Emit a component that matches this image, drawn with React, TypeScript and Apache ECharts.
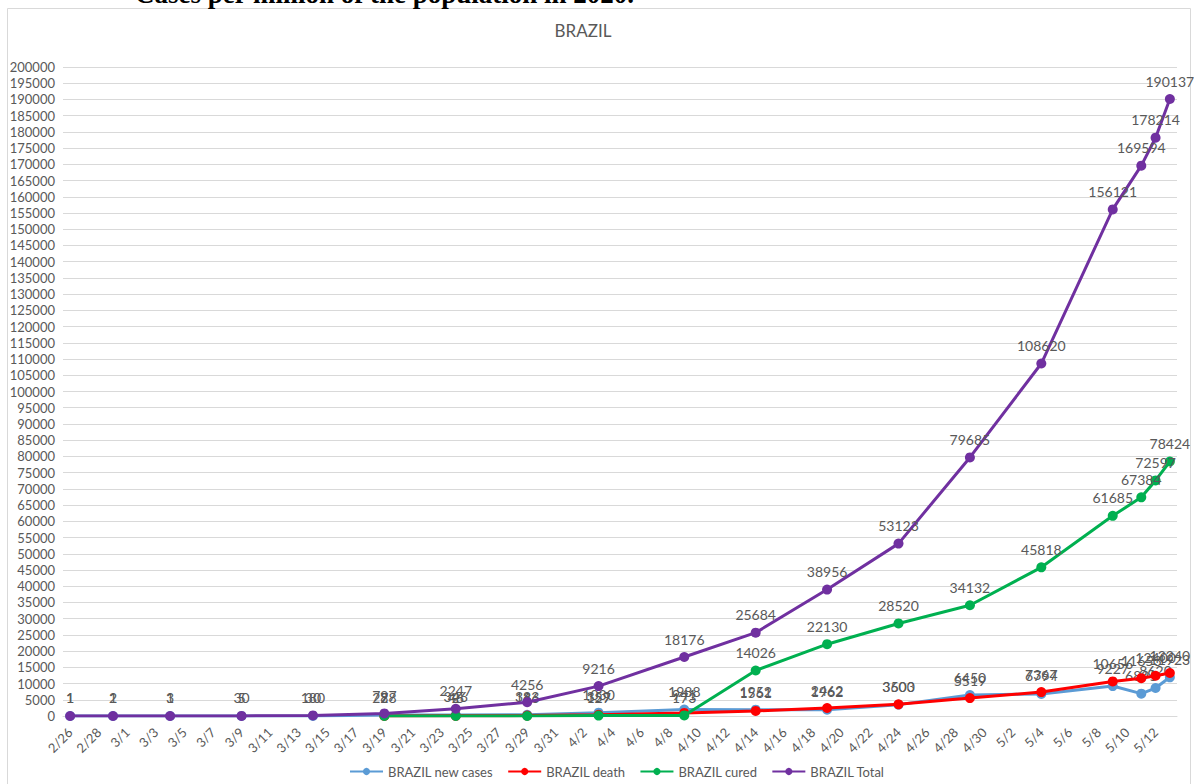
import React, { useEffect, useRef } from "react";
import * as echarts from "echarts";

// Observation dates (2020)
const obsDates = ["2/26", "2/29", "3/4", "3/9", "3/14", "3/19", "3/24", "3/29", "4/3", "4/9", "4/14", "4/19", "4/24", "4/29", "5/4", "5/9", "5/11", "5/12", "5/13"];

const newCases = [1, 1, 1, 5, 30, 288, 346, 383, 1030, 1988, 1952, 1962, 3503, 6450, 6794, 9227, 6895, 8620, 11923];
const deaths = [null, null, null, null, null, 7, 46, 136, 359, 941, 1561, 2462, 3600, 5519, 7367, 10656, 11653, 12400, 13240];
const cured = [null, null, null, null, null, 2, 2, 6, 127, 173, 14026, 22130, 28520, 34132, 45818, 61685, 67384, 72597, 78424];
const total = [1, 2, 3, 30, 180, 797, 2247, 4256, 9216, 18176, 25684, 38956, 53123, 79685, 108620, 156121, 169594, 178214, 190137];

const seriesNames = ["BRAZIL new cases", "BRAZIL death", "BRAZIL cured", "BRAZIL Total"];
const seriesColors = ["#5B9BD5", "#FF0000", "#00B050", "#7030A0"];

const axisStart = [2020, 1, 26];
const axisEnd = [2020, 4, 13];

function buildCategories(): string[] {
  const out: string[] = [];
  const d = new Date(axisStart[0], axisStart[1], axisStart[2]);
  const end = new Date(axisEnd[0], axisEnd[1], axisEnd[2]);
  while (d <= end) {
    out.push(`${d.getMonth() + 1}/${d.getDate()}`);
    d.setDate(d.getDate() + 1);
  }
  return out;
}

const FONT = "Lato, 'Open Sans', sans-serif";

export default function App() {
  const ref = useRef<HTMLDivElement>(null);
  useEffect(() => {
    if (!ref.current) return;
    const chart = echarts.init(ref.current, null, { renderer: "svg" });
    const cats = buildCategories();
    const toFull = (vals: (number | null)[]) =>
      cats.map((c) => {
        const i = obsDates.indexOf(c);
        return i < 0 ? null : vals[i];
      });
    const allVals = [newCases, deaths, cured, total];

    chart.setOption({
      animation: false,
      backgroundColor: "#ffffff",
      textStyle: { fontFamily: FONT },
      graphic: [
        {
          type: "rect",
          shape: { x: 7.5, y: 8.5, width: 1183, height: 790 },
          style: { fill: "none", stroke: "#d9d9d9", lineWidth: 1 },
          silent: true,
        },
        {
          type: "text",
          x: 135,
          y: 7,
          style: {
            text: "Cases per million of the population in 2020.",
            font: "bold 27px 'Liberation Serif', 'Times New Roman', serif",
            fill: "#000000",
            verticalAlign: "bottom",
          },
          silent: true,
        },
        {
          type: "text",
          x: 583,
          y: 30,
          style: {
            text: "BRAZIL",
            font: `17px ${FONT}`,
            fill: "#595959",
            align: "center",
            verticalAlign: "middle",
          },
          silent: true,
        },
      ],
      legend: {
        left: 344,
        top: 760,
        itemWidth: 33,
        itemHeight: 9,
        itemGap: 14,
        textStyle: { color: "#595959", fontSize: 13, fontFamily: FONT },
        data: seriesNames,
      },
      grid: { left: 63, right: 17, top: 67, bottom: 68, containLabel: false },
      xAxis: {
        type: "category",
        data: cats,
        boundaryGap: true,
        axisLine: { show: true, lineStyle: { color: "#d9d9d9", width: 1 } },
        axisTick: { show: false },
        axisLabel: {
          interval: 1,
          rotate: 45,
          color: "#595959",
          fontSize: 13,
          fontFamily: FONT,
          margin: 14,
        },
        splitLine: { show: false },
      },
      yAxis: {
        type: "value",
        min: 0,
        max: 200000,
        interval: 5000,
        axisLine: { show: false },
        axisTick: { show: false },
        axisLabel: {
          color: "#595959",
          fontSize: 13,
          fontFamily: FONT,
          margin: 8,
          formatter: (v: number) => String(v),
        },
        splitLine: { show: true, lineStyle: { color: "#d9d9d9", width: 1 } },
      },
      series: seriesNames.map((name, i) => ({
        name,
        type: "line",
        data: toFull(allVals[i] as (number | null)[]),
        connectNulls: true,
        showAllSymbol: true,
        symbol: "circle",
        symbolSize: 10,
        lineStyle: { width: 3, color: seriesColors[i] },
        itemStyle: { color: seriesColors[i] },
        label: {
          show: true,
          position: "top",
          distance: 6,
          color: "#595959",
          fontSize: 14,
          fontFamily: FONT,
          formatter: (p: any) => String(p.value),
        },
        z: 2 + i,
      })),
    });
    return () => chart.dispose();
  }, []);
  return (
    <div
      ref={ref}
      style={{ position: "absolute", left: 0, top: 0, width: 1194, height: 784 }}
    />
  );
}
